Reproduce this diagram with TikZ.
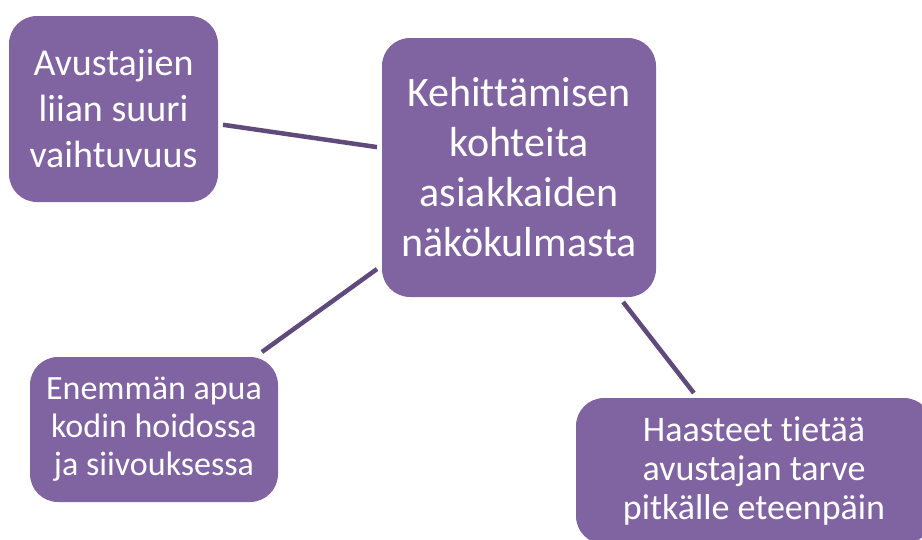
\documentclass[tikz,border=0pt]{standalone}
\usepackage{fontspec}
\setmainfont[Ligatures=NoCommon]{Carlito}
\usepackage{xcolor}
\usepackage{tikz}
\definecolor{boxpurple}{HTML}{8064A2}
\definecolor{linkpurple}{HTML}{604A7B}

\begin{document}
\begin{tikzpicture}[x=1pt,y=-1pt,
    box/.style={fill=boxpurple,text=white,rounded corners=28pt,align=center,
      inner sep=0pt,outer sep=5pt},
    link/.style={draw=linkpurple,line width=4.5pt}]

\useasboundingbox (0,0) rectangle (922,539);
\clip (0,0) rectangle (922,539);

\node[box,minimum width=274pt,minimum height=259pt,font=\fontsize{42}{50}\selectfont]
  (kohteet) at (519,167.5) {Kehittämisen\\kohteita\\asiakkaiden\\näkökulmasta};
\node[box,minimum width=209pt,minimum height=186pt,font=\fontsize{38}{46}\selectfont]
  (vaihtuvuus) at (113.5,109) {Avustajien\\liian suuri\\vaihtuvuus};
\node[box,minimum width=248pt,minimum height=145pt,font=\fontsize{34}{38}\selectfont]
  (siivous) at (154,429.5) {Enemmän apua\\kodin hoidossa\\ja siivouksessa};
\node[box,minimum width=356pt,minimum height=146pt,font=\fontsize{36}{39}\selectfont]
  (tarve) at (754,471) {Haasteet tietää\\avustajan tarve\\pitkälle eteenpäin};

\path (vaihtuvuus) edge[link] (kohteet);
\path (kohteet) edge[link] (siivous);
\path (kohteet) edge[link] (tarve);

\end{tikzpicture}
\end{document}
